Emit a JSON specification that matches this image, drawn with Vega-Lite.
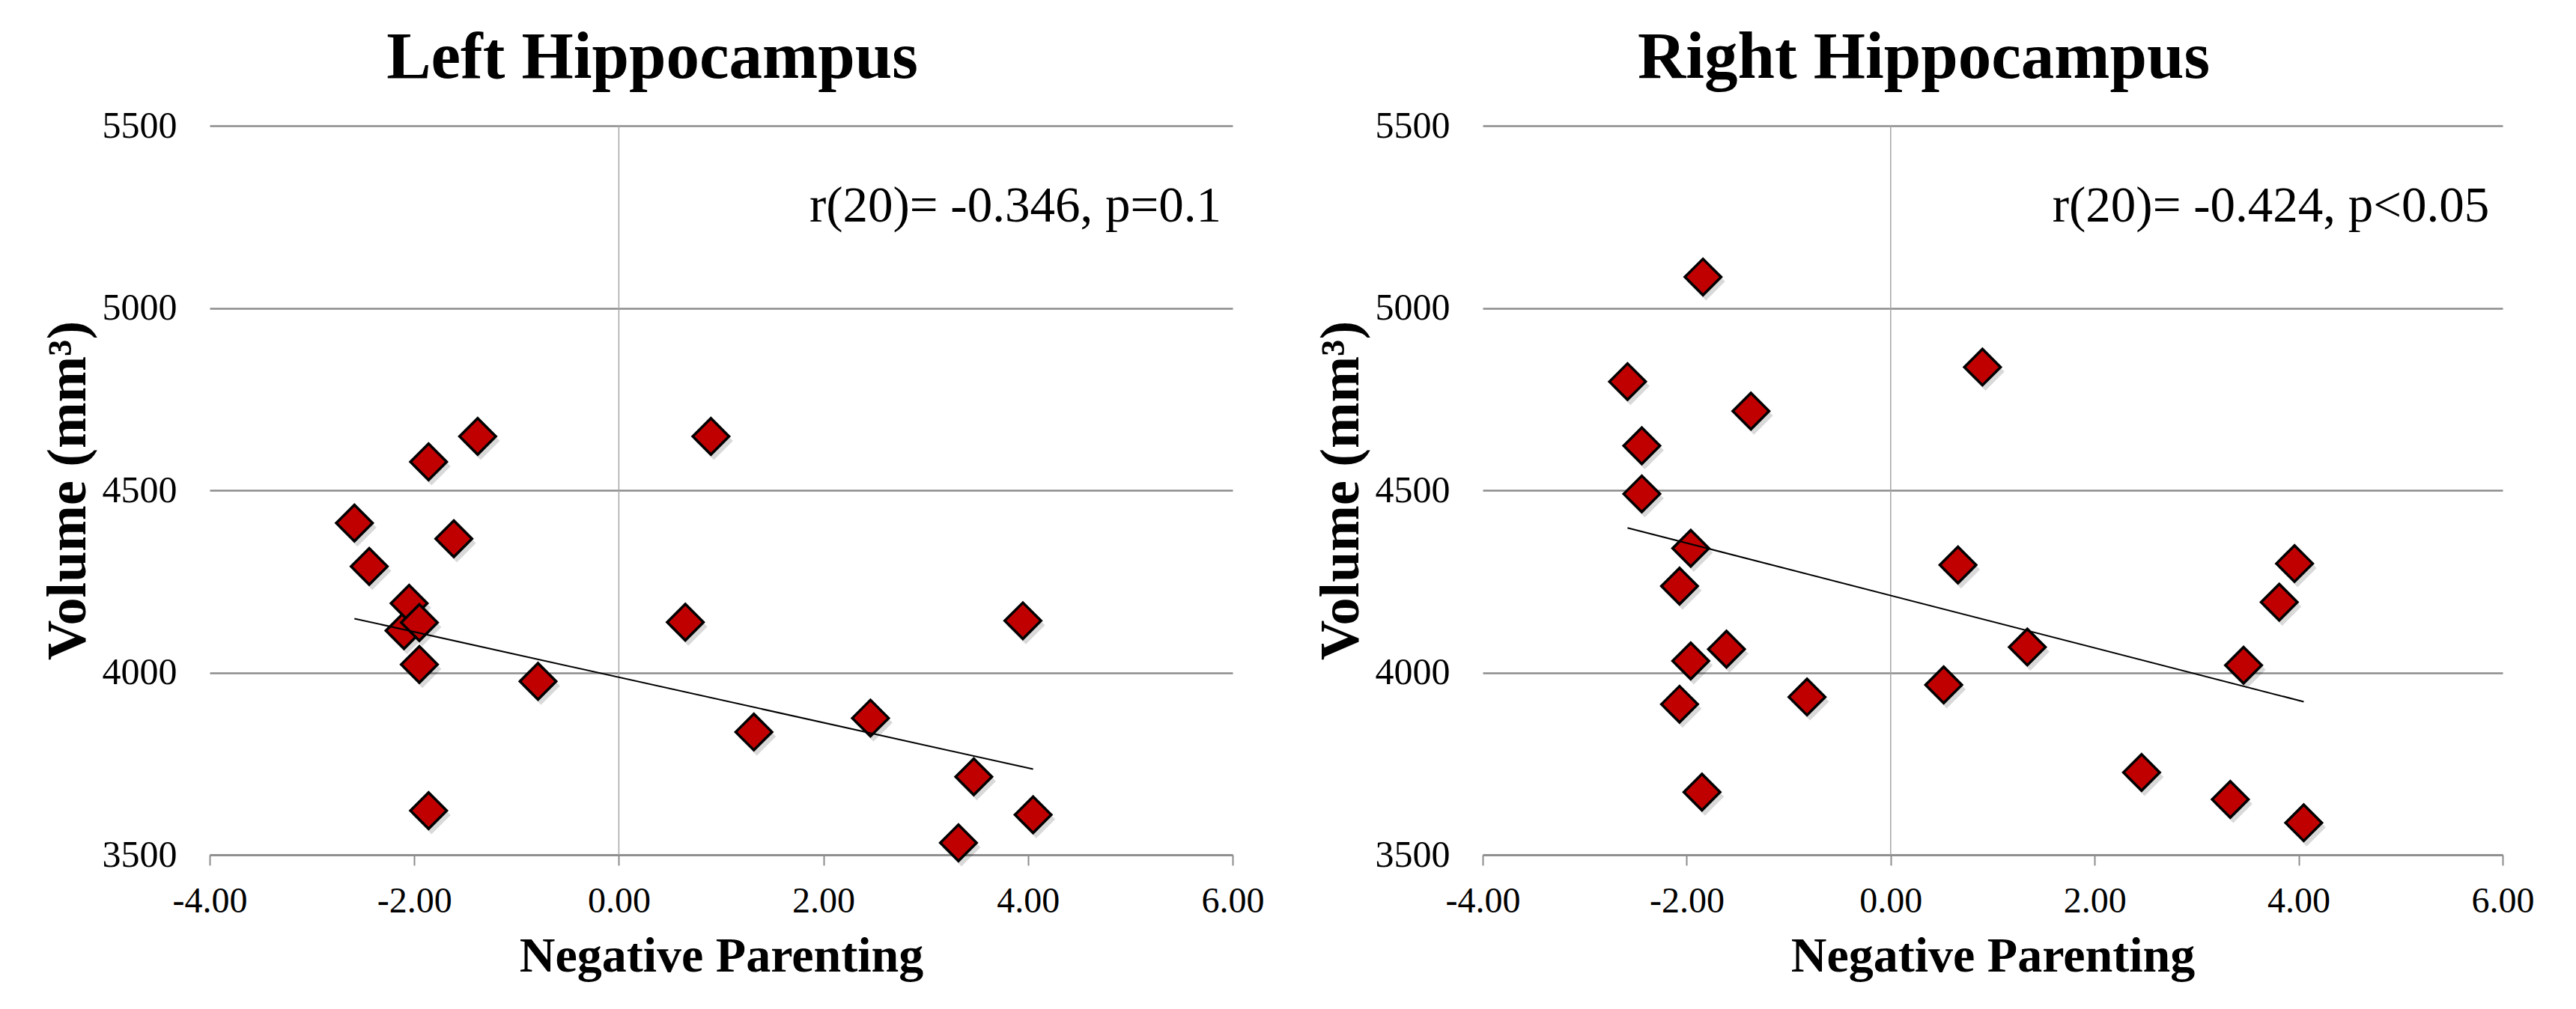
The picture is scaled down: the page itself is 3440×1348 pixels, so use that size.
{
  "$schema": "https://vega.github.io/schema/vega-lite/v6.json",
  "padding": {"left": 54, "top": 33, "right": 10, "bottom": 10},
  "background": "white",
  "bounds": "flush",
  "spacing": 334,
  "datasets": {
    "leftPoints": [
      {"x": -2.585, "y": 4410}, {"x": -2.44, "y": 4291}, {"x": -2.10, "y": 4115},
      {"x": -2.05, "y": 4190}, {"x": -1.95, "y": 4137}, {"x": -1.95, "y": 4022},
      {"x": -1.86, "y": 4578}, {"x": -1.38, "y": 4648}, {"x": -1.613, "y": 4367},
      {"x": -0.79, "y": 3976}, {"x": 0.65, "y": 4138}, {"x": 0.90, "y": 4648},
      {"x": 1.32, "y": 3837}, {"x": 2.46, "y": 3875}, {"x": 3.47, "y": 3714},
      {"x": 3.32, "y": 3533}, {"x": 3.95, "y": 4142}, {"x": 4.05, "y": 3610},
      {"x": -1.86, "y": 3621}
    ],
    "rightPoints": [
      {"x": -1.84, "y": 5085}, {"x": 0.90, "y": 4838}, {"x": -2.58, "y": 4798},
      {"x": -1.37, "y": 4717}, {"x": -2.44, "y": 4622}, {"x": -2.44, "y": 4490},
      {"x": -1.96, "y": 4341}, {"x": -2.07, "y": 4237}, {"x": 0.66, "y": 4295},
      {"x": 3.96, "y": 4299}, {"x": 3.81, "y": 4193}, {"x": -1.61, "y": 4064},
      {"x": -1.96, "y": 4032}, {"x": 1.34, "y": 4070}, {"x": 3.46, "y": 4020},
      {"x": 0.52, "y": 3966}, {"x": -2.07, "y": 3913}, {"x": -0.82, "y": 3933},
      {"x": 2.46, "y": 3726}, {"x": -1.85, "y": 3672}, {"x": 3.33, "y": 3652},
      {"x": 4.05, "y": 3588}
    ],
    "leftTrend": [{"x": -2.585, "y": 4148}, {"x": 4.05, "y": 3735}],
    "rightTrend": [{"x": -2.58, "y": 4397}, {"x": 4.05, "y": 3920}],
    "leftNote": [{"x": 5.89, "y": 5237, "label": "r(20)= -0.346, p=0.1"}],
    "rightNote": [{"x": 5.87, "y": 5237, "label": "r(20)= -0.424, p<0.05"}],
    "zero": [{"x": 0}]
  },
  "hconcat": [
    {
      "width": 1366,
      "height": 974,
      "title": {"text": "Left Hippocampus"},
      "layer": [
        {
          "data": {"name": "zero"},
          "mark": {"type": "rule", "color": "#a6a6a6", "strokeWidth": 1.5},
          "encoding": {
            "x": {"field": "x", "type": "quantitative", "title": "Negative Parenting", "axis": {"values": [-4, -2, 0, 2, 4, 6], "format": ".2f"}, "scale": {"domain": [-4, 6], "nice": false, "zero": false}}
          }
        },
        {
          "data": {"name": "leftPoints"},
          "mark": {"type": "point", "shape": "diamond", "filled": true, "color": "#000000", "opacity": 0.15, "size": 2600, "xOffset": 4, "yOffset": 6, "strokeWidth": 0},
          "encoding": {
            "x": {"field": "x", "type": "quantitative", "title": "Negative Parenting", "axis": {"values": [-4, -2, 0, 2, 4, 6], "format": ".2f"}, "scale": {"domain": [-4, 6], "nice": false, "zero": false}},
            "y": {"field": "y", "type": "quantitative", "title": "Volume (mm³)", "axis": {"values": [3500, 4000, 4500, 5000, 5500], "format": "d"}, "scale": {"domain": [3500, 5500], "nice": false, "zero": false}}
          }
        },
        {
          "data": {"name": "leftPoints"},
          "mark": {"type": "point", "shape": "diamond", "filled": true, "fill": "#C00000", "stroke": "#000000", "strokeWidth": 3.5, "size": 2350, "opacity": 1},
          "encoding": {
            "x": {"field": "x", "type": "quantitative", "title": "Negative Parenting", "axis": {"values": [-4, -2, 0, 2, 4, 6], "format": ".2f"}},
            "y": {"field": "y", "type": "quantitative", "title": "Volume (mm³)", "axis": {"values": [3500, 4000, 4500, 5000, 5500], "format": "d"}}
          }
        },
        {
          "data": {"name": "leftTrend"},
          "mark": {"type": "line", "color": "#000000", "strokeWidth": 2},
          "encoding": {
            "x": {"field": "x", "type": "quantitative", "title": "Negative Parenting", "axis": {"values": [-4, -2, 0, 2, 4, 6], "format": ".2f"}},
            "y": {"field": "y", "type": "quantitative", "title": "Volume (mm³)", "axis": {"values": [3500, 4000, 4500, 5000, 5500], "format": "d"}}
          }
        },
        {
          "data": {"name": "leftNote"},
          "mark": {"type": "text", "align": "right", "baseline": "alphabetic", "fontSize": 67, "font": "Liberation Serif", "color": "#000000"},
          "encoding": {
            "x": {"field": "x", "type": "quantitative", "title": "Negative Parenting", "axis": {"values": [-4, -2, 0, 2, 4, 6], "format": ".2f"}},
            "y": {"field": "y", "type": "quantitative", "title": "Volume (mm³)", "axis": {"values": [3500, 4000, 4500, 5000, 5500], "format": "d"}},
            "text": {"field": "label"}
          }
        }
      ]
    },
    {
      "width": 1362,
      "height": 974,
      "title": {"text": "Right Hippocampus"},
      "layer": [
        {
          "data": {"name": "zero"},
          "mark": {"type": "rule", "color": "#a6a6a6", "strokeWidth": 1.5},
          "encoding": {
            "x": {"field": "x", "type": "quantitative", "title": "Negative Parenting", "axis": {"values": [-4, -2, 0, 2, 4, 6], "format": ".2f"}, "scale": {"domain": [-4, 6], "nice": false, "zero": false}}
          }
        },
        {
          "data": {"name": "rightPoints"},
          "mark": {"type": "point", "shape": "diamond", "filled": true, "color": "#000000", "opacity": 0.15, "size": 2600, "xOffset": 4, "yOffset": 6, "strokeWidth": 0},
          "encoding": {
            "x": {"field": "x", "type": "quantitative", "title": "Negative Parenting", "axis": {"values": [-4, -2, 0, 2, 4, 6], "format": ".2f"}, "scale": {"domain": [-4, 6], "nice": false, "zero": false}},
            "y": {"field": "y", "type": "quantitative", "title": "Volume (mm³)", "axis": {"values": [3500, 4000, 4500, 5000, 5500], "format": "d"}, "scale": {"domain": [3500, 5500], "nice": false, "zero": false}}
          }
        },
        {
          "data": {"name": "rightPoints"},
          "mark": {"type": "point", "shape": "diamond", "filled": true, "fill": "#C00000", "stroke": "#000000", "strokeWidth": 3.5, "size": 2350, "opacity": 1},
          "encoding": {
            "x": {"field": "x", "type": "quantitative", "title": "Negative Parenting", "axis": {"values": [-4, -2, 0, 2, 4, 6], "format": ".2f"}},
            "y": {"field": "y", "type": "quantitative", "title": "Volume (mm³)", "axis": {"values": [3500, 4000, 4500, 5000, 5500], "format": "d"}}
          }
        },
        {
          "data": {"name": "rightTrend"},
          "mark": {"type": "line", "color": "#000000", "strokeWidth": 2},
          "encoding": {
            "x": {"field": "x", "type": "quantitative", "title": "Negative Parenting", "axis": {"values": [-4, -2, 0, 2, 4, 6], "format": ".2f"}},
            "y": {"field": "y", "type": "quantitative", "title": "Volume (mm³)", "axis": {"values": [3500, 4000, 4500, 5000, 5500], "format": "d"}}
          }
        },
        {
          "data": {"name": "rightNote"},
          "mark": {"type": "text", "align": "right", "baseline": "alphabetic", "fontSize": 67, "font": "Liberation Serif", "color": "#000000"},
          "encoding": {
            "x": {"field": "x", "type": "quantitative", "title": "Negative Parenting", "axis": {"values": [-4, -2, 0, 2, 4, 6], "format": ".2f"}},
            "y": {"field": "y", "type": "quantitative", "title": "Volume (mm³)", "axis": {"values": [3500, 4000, 4500, 5000, 5500], "format": "d"}},
            "text": {"field": "label"}
          }
        }
      ]
    }
  ],
  "config": {
    "font": "Liberation Serif",
    "locale": {"number": {"decimal": ".", "thousands": ",", "grouping": [3], "currency": ["$", ""], "minus": "-"}},
    "view": {"stroke": null},
    "title": {"font": "Liberation Serif", "fontSize": 89, "fontWeight": "bold", "color": "#000000", "anchor": "middle", "frame": "bounds", "baseline": "alphabetic", "offset": 20},
    "axisX": {
      "grid": false,
      "domain": true,
      "domainColor": "#8c8c8c",
      "domainWidth": 2.3,
      "ticks": true,
      "tickSize": 14,
      "tickColor": "#8c8c8c",
      "tickWidth": 2,
      "labelFont": "Liberation Serif",
      "labelFontSize": 48,
      "labelColor": "#000000",
      "labelPadding": 24,
      "labelFlush": false,
      "labelOverlap": false,
      "titleFont": "Liberation Serif",
      "titleFontSize": 66,
      "titleFontWeight": "bold",
      "titleColor": "#000000",
      "titlePadding": 17
    },
    "axisY": {
      "grid": true,
      "gridColor": "#8c8c8c",
      "gridWidth": 2.3,
      "gridOpacity": 1,
      "domain": false,
      "ticks": false,
      "labelFont": "Liberation Serif",
      "labelFontSize": 50,
      "labelColor": "#000000",
      "labelPadding": 44,
      "labelFlush": false,
      "labelOverlap": false,
      "titleFont": "Liberation Serif",
      "titleFontSize": 74,
      "titleFontWeight": "bold",
      "titleColor": "#000000",
      "titlePadding": 7
    }
  }
}
